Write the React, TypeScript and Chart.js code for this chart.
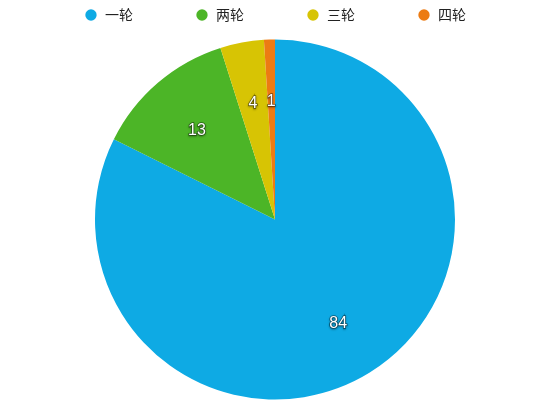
import { useEffect, useRef } from 'react';
import Chart from 'chart.js/auto';

const categories = ['一轮', '两轮', '三轮', '四轮'];
const values = [84, 13, 4, 1];
const colors = ['#0eaae4', '#4cb527', '#d7c404', '#ec7b13'];

// draws the value inside each slice, white with a dark shadow
const sliceLabels = {
  id: 'sliceLabels',
  afterDatasetsDraw(chart: any) {
    const ctx = chart.ctx;
    const meta = chart.getDatasetMeta(0);
    ctx.save();
    ctx.font = '16px "Liberation Sans", Arial, sans-serif';
    ctx.textAlign = 'center';
    ctx.textBaseline = 'middle';
    meta.data.forEach((arc: any, i: number) => {
      const { x, y, startAngle, endAngle, outerRadius } = arc.getProps(
        ['x', 'y', 'startAngle', 'endAngle', 'outerRadius'],
        true
      );
      const mid = (startAngle + endAngle) / 2;
      const r = outerRadius * 0.667;
      const tx = x + Math.cos(mid) * r;
      const ty = y + Math.sin(mid) * r + 2.5;
      const text = String(chart.data.datasets[0].data[i]);
      ctx.shadowColor = 'rgba(0,0,0,0.75)';
      ctx.shadowBlur = 2;
      ctx.shadowOffsetY = 1;
      ctx.lineWidth = 1.5;
      ctx.strokeStyle = 'rgba(0,0,0,0.45)';
      ctx.strokeText(text, tx, ty);
      ctx.shadowColor = 'transparent';
      ctx.fillStyle = '#ffffff';
      ctx.fillText(text, tx, ty);
    });
    ctx.restore();
  },
};

const App = () => {
  const chartRef = useRef<HTMLCanvasElement>(null);
  const chartInstance = useRef<Chart>();

  useEffect(() => {
    if (chartRef.current) {
      const ctx = chartRef.current.getContext('2d');

      if (ctx) {
        if (chartInstance.current) {
          chartInstance.current.destroy();
        }

        chartInstance.current = new Chart(ctx, {
          type: 'pie',
          data: {
            labels: categories,
            datasets: [{
              data: values,
              backgroundColor: colors,
              borderWidth: 0,
            }],
          },
          options: {
            responsive: true,
            maintainAspectRatio: false,
            animation: false,
            radius: 180,
            layout: {
              padding: { top: -54, bottom: 2, left: 0, right: 0 },
            },
            plugins: {
              legend: {
                position: 'top',
                labels: {
                  usePointStyle: true,
                  pointStyle: 'circle',
                  boxWidth: 14,
                  boxHeight: 8,
                  padding: 62,
                  color: '#222',
                  font: { family: '"Noto Sans CJK SC", sans-serif', size: 14 },
                },
              },
              tooltip: { enabled: false },
            },
          },
          plugins: [sliceLabels],
        });
      }
    }

    return () => {
      if (chartInstance.current) {
        chartInstance.current.destroy();
      }
    };
  }, []);

  return (
    <div style={{ position: 'absolute', left: 0, top: 0, width: 550, height: 409 }}>
      <canvas ref={chartRef} />
    </div>
  );
};

export default App;
